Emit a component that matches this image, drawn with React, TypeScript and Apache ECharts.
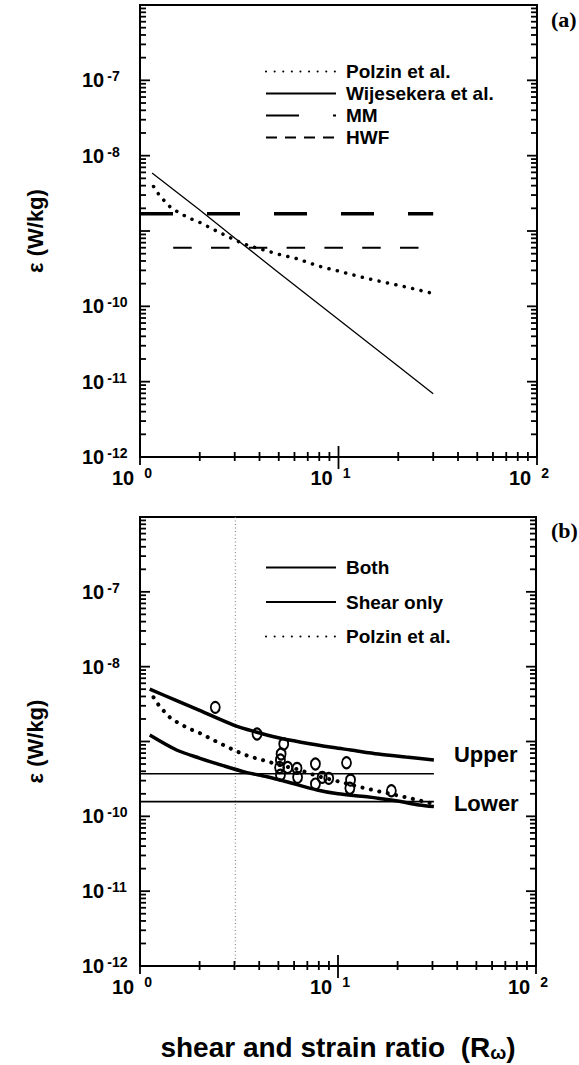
import React, { useEffect, useRef } from 'react';
import * as echarts from 'echarts';

// ---------- data ----------
// Panel (a)
const R_POLZIN = [1.17, 1.26, 1.44, 1.75, 2.0, 2.34, 2.68, 3.07, 3.58, 4.02, 5.0, 6.16, 8.0, 10.2, 13, 16.8, 22, 30];
const EPS_POLZIN = [3.9e-9, 2.9e-9, 2.0e-9, 1.5e-9, 1.3e-9, 1.05e-9, 8.8e-10, 7.4e-10, 6.3e-10, 5.8e-10, 4.9e-10, 4.3e-10, 3.4e-10, 2.9e-10, 2.45e-10, 2.1e-10, 1.8e-10, 1.48e-10];
const R_WIJ = [1.15, 2, 3, 5, 10, 20, 30];
const EPS_WIJ = [5.9e-9, 1.9e-9, 8.1e-10, 2.8e-10, 6.7e-11, 1.6e-11, 6.9e-12];
const R_MM = [1.0, 30];
const EPS_MM = [1.7e-9, 1.7e-9];
const R_HWF = [1.47, 30];
const EPS_HWF = [6.0e-10, 6.0e-10];

// Panel (b)
const R_UPPER = [1.12, 1.5, 2.0, 2.97, 3.9, 5.0, 6.5, 9.5, 11.6, 16, 22, 30.5];
const EPS_UPPER = [5.0e-9, 3.6e-9, 2.6e-9, 1.66e-9, 1.33e-9, 1.12e-9, 9.8e-10, 8.3e-10, 7.7e-10, 6.8e-10, 6.2e-10, 5.66e-10];
const R_LOWER = [1.12, 1.53, 2.01, 2.6, 3.4, 4.38, 5.5, 7.85, 10, 14, 20, 25.7, 30.5];
const EPS_LOWER = [1.22e-9, 7.7e-10, 5.96e-10, 4.8e-10, 3.9e-10, 3.38e-10, 2.9e-10, 2.25e-10, 2.0e-10, 1.83e-10, 1.6e-10, 1.42e-10, 1.35e-10];
const R_SHEAR = [1.0, 30.5];
const EPS_SHEAR_UPPER = [3.7e-10, 3.7e-10];
const EPS_SHEAR_LOWER = [1.57e-10, 1.57e-10];
const R_OBS = [2.40, 3.90, 5.32, 5.16, 5.12, 5.07, 5.12, 5.57, 6.21, 6.25, 7.69, 7.69, 8.32, 8.98, 11.04, 11.57, 11.48, 18.6];
const EPS_OBS = [2.86e-9, 1.26e-9, 9.25e-10, 6.8e-10, 5.66e-10, 4.5e-10, 3.56e-10, 4.5e-10, 4.38e-10, 3.32e-10, 5.0e-10, 2.7e-10, 3.32e-10, 3.22e-10, 5.2e-10, 3.05e-10, 2.37e-10, 2.2e-10];
const R_VLINE = [3.03, 3.03];
const EPS_VLINE = [1e-12, 1e-6];

// tick labels
const X_LABELS = [1, 10, 100];
const Y_LABELS = [1e-12, 1e-11, 1e-10, 1e-8, 1e-7];
const LEGEND_A = ['Polzin et al.', 'Wijesekera et al.', 'MM', 'HWF'];
const LEGEND_B = ['Both', 'Shear only', 'Polzin et al.'];

// ---------- helpers ----------
const FONT = '"Liberation Sans", Arial, Helvetica, sans-serif';
const BLACK = '#000';
const X_MIN = 1, X_MAX = 100, Y_MIN = 1e-12, Y_MAX = 1e-6;
const zip = (xs: number[], ys: number[]) => xs.map((x, i) => [x, ys[i]]);
const minorsOf = (lo: number, hi: number) => {
  const out: number[] = [];
  for (let e = lo; e < hi; e++) for (let m = 2; m <= 9; m++) out.push(parseFloat((m * Math.pow(10, e)).toPrecision(3)));
  return out;
};
const X_MINORS = minorsOf(0, 2);
const Y_MINORS = minorsOf(-12, -6);
const Y_MAJORS = [1e-11, 1e-10, 1e-9, 1e-8, 1e-7];
const powLabel = (v: number) => `{b|10}{s|${Math.round(Math.log10(v))}}`;

const GRIDS = [
  { left: 140, top: 5, width: 397, height: 452 },
  { left: 140, top: 517, width: 396, height: 449 },
];

// tick geometry kinds: [dx1, dy1, dx2, dy2] relative to the tick's anchor on the axis
const TICK_SHAPES: number[][] = [
  [0, -5, 0, 4],    // 0: x minor, crossing bottom axis
  [0, -11, 0, 12],  // 1: x major inner decade, crossing
  [0, 0, 0, 8],     // 2: x major at the ends, below
  [0, 0, 6, 0],     // 3: y minor left, inward
  [0, 0, 10, 0],    // 4: y major left, inward
  [0, 0, -6, 0],    // 5: y minor right, inward
  [0, 0, -10, 0],   // 6: y major right, inward
];
const tickData = () => [
  ...X_MINORS.map((v) => [v, Y_MIN, 0]),
  [10, Y_MIN, 1],
  [1, Y_MIN, 2],
  [100, Y_MIN, 2],
  ...Y_MINORS.map((v) => [X_MIN, v, 3]),
  ...Y_MAJORS.map((v) => [X_MIN, v, 4]),
  ...Y_MINORS.map((v) => [X_MAX, v, 5]),
  ...Y_MAJORS.map((v) => [X_MAX, v, 6]),
];

function tickSeries(g: number) {
  return {
    type: 'custom', xAxisIndex: g, yAxisIndex: g, clip: false, z: 6,
    data: tickData(),
    renderItem: (_p: any, api: any) => {
      const pt = api.coord([api.value(0), api.value(1)]);
      const s = TICK_SHAPES[api.value(2)];
      return {
        type: 'line',
        shape: { x1: pt[0] + s[0], y1: pt[1] + s[1], x2: pt[0] + s[2], y2: pt[1] + s[3] },
        style: { stroke: BLACK, lineWidth: 1.8 },
      };
    },
  };
}

function xAxisFor(g: number, withName: boolean) {
  const ax: any = {
    type: 'log', gridIndex: g, min: X_MIN, max: X_MAX, logBase: 10, position: 'bottom',
    splitLine: { show: false }, minorTick: { show: false }, minorSplitLine: { show: false },
    axisLine: { show: true, lineStyle: { color: BLACK, width: 2 } },
    axisTick: { show: false },
    axisLabel: {
      show: true, customValues: X_LABELS, formatter: powLabel, margin: 9, color: BLACK,
      rich: {
        b: { fontFamily: FONT, fontWeight: 'bold', fontSize: 20, lineHeight: 24, color: BLACK },
        s: { fontFamily: FONT, fontWeight: 'bold', fontSize: 14, lineHeight: 13, verticalAlign: 'top', padding: [0, 16, 0, 10], color: BLACK },
      },
    },
  };
  if (withName) {
    ax.name = 'shear and strain ratio  (R{w|ω})';
    ax.nameLocation = 'middle';
    ax.nameGap = 66;
    ax.nameTextStyle = {
      fontFamily: FONT, fontWeight: 'bold', fontSize: 28, lineHeight: 30, color: BLACK,
      rich: { w: { fontFamily: FONT, fontWeight: 'bold', fontSize: 19, lineHeight: 14, verticalAlign: 'bottom', color: BLACK } },
    };
  }
  return ax;
}

function yAxisFor(g: number) {
  return {
    type: 'log', gridIndex: g, min: Y_MIN, max: Y_MAX, logBase: 10, position: 'left',
    splitLine: { show: false }, minorTick: { show: false }, minorSplitLine: { show: false },
    axisLine: { show: true, lineStyle: { color: BLACK, width: 2 } },
    axisTick: { show: false },
    axisLabel: {
      show: true, customValues: Y_LABELS, formatter: powLabel, align: 'left', margin: 58, color: BLACK,
      rich: {
        b: { fontFamily: FONT, fontWeight: 'bold', fontSize: 20, lineHeight: 22, color: BLACK },
        s: { fontFamily: FONT, fontWeight: 'bold', fontSize: 14, lineHeight: 13, verticalAlign: 'top', padding: [0, 0, 0, 3], color: BLACK },
      },
    },
    name: 'ε (W/kg)', nameLocation: 'middle', nameGap: 94,
    nameTextStyle: { fontFamily: FONT, fontWeight: 'bold', fontSize: 22, color: BLACK },
  };
}

const dotted = (w: number) => ({ color: BLACK, width: w, type: [0.1, 8.5], cap: 'round' as const });

function lineSeries(name: string, g: number, data: number[][], lineStyle: any, extra: any = {}) {
  return {
    type: 'line', name, xAxisIndex: g, yAxisIndex: g, data, symbol: 'none', showSymbol: false,
    lineStyle, itemStyle: { color: BLACK }, silent: true, z: 3, ...extra,
  };
}

export default function App() {
  const ref = useRef<HTMLDivElement>(null);
  useEffect(() => {
    if (!ref.current) return;
    const chart = echarts.init(ref.current, undefined, { renderer: 'svg' });
    const legendText = { fontFamily: FONT, fontWeight: 'bold', fontSize: 19, color: BLACK, padding: [0, 0, 0, 5] };
    const serif = '"Liberation Serif", "Times New Roman", serif';
    const option: any = {
      animation: false,
      title: [
        { text: '(a)', left: 546, top: 3, textStyle: { fontFamily: serif, fontWeight: 'bold', fontSize: 22, color: BLACK } },
        { text: '(b)', left: 546, top: 514, textStyle: { fontFamily: serif, fontWeight: 'bold', fontSize: 22, color: BLACK } },
      ],
      legend: [
        {
          data: LEGEND_A.map((n) => (n === 'HWF' ? { name: n, lineStyle: { type: [11, 8] } } : n)),
          left: 260, top: 57, orient: 'vertical', itemWidth: 70, itemHeight: 14, itemGap: 3, textStyle: legendText, selectedMode: false, itemStyle: { opacity: 0 },
        },
        { data: LEGEND_B, left: 260, top: 553, orient: 'vertical', itemWidth: 70, itemHeight: 14, itemGap: 15.5, textStyle: legendText, selectedMode: false, itemStyle: { opacity: 0 } },
      ],
      grid: GRIDS.map((g) => ({ ...g, show: true, borderColor: BLACK, borderWidth: 2 })),
      xAxis: [xAxisFor(0, false), xAxisFor(1, true)],
      yAxis: [yAxisFor(0), yAxisFor(1)],
      series: [
        tickSeries(0),
        tickSeries(1),
        // panel (a)
        lineSeries('Polzin et al.', 0, zip(R_POLZIN, EPS_POLZIN), dotted(3.5)),
        lineSeries('Wijesekera et al.', 0, zip(R_WIJ, EPS_WIJ), { color: BLACK, width: 1.3 }),
        lineSeries('MM', 0, zip(R_MM, EPS_MM), { color: BLACK, width: 3.5, type: [33, 34] }),
        lineSeries('HWF', 0, zip(R_HWF, EPS_HWF), { color: BLACK, width: 2, type: [18.5, 19.3] }),
        // panel (b)
        lineSeries('vline', 1, zip(R_VLINE, EPS_VLINE), { color: '#777', width: 1, type: [1, 2.5] }),
        lineSeries('Both', 1, zip(R_UPPER, EPS_UPPER), { color: BLACK, width: 3.5 }, {
          smooth: 0.3,
          endLabel: { show: true, formatter: 'Upper', distance: 20, offset: [0, -5], fontFamily: FONT, fontWeight: 'bold', fontSize: 22, color: BLACK },
        }),
        lineSeries('Both', 1, zip(R_LOWER, EPS_LOWER), { color: BLACK, width: 3.5 }, {
          smooth: 0.3,
          endLabel: { show: true, formatter: 'Lower', distance: 20, offset: [0, -3], fontFamily: FONT, fontWeight: 'bold', fontSize: 22, color: BLACK },
        }),
        lineSeries('Shear only', 1, zip(R_SHEAR, EPS_SHEAR_UPPER), { color: BLACK, width: 1.6 }),
        lineSeries('Shear only', 1, zip(R_SHEAR, EPS_SHEAR_LOWER), { color: BLACK, width: 1.6 }),
        lineSeries('Polzin et al.', 1, zip(R_POLZIN, EPS_POLZIN), dotted(4)),
        {
          type: 'scatter', name: 'observations', xAxisIndex: 1, yAxisIndex: 1,
          data: zip(R_OBS, EPS_OBS), symbol: 'circle', symbolSize: [9, 11],
          itemStyle: { color: 'rgba(0,0,0,0)', borderColor: BLACK, borderWidth: 2, opacity: 1 }, silent: true, z: 4,
        },
      ],
    };
    chart.setOption(option);
    return () => chart.dispose();
  }, []);
  return <div ref={ref} style={{ position: 'absolute', left: 0, top: 0, width: 579, height: 1065, background: '#fff' }} />;
}
